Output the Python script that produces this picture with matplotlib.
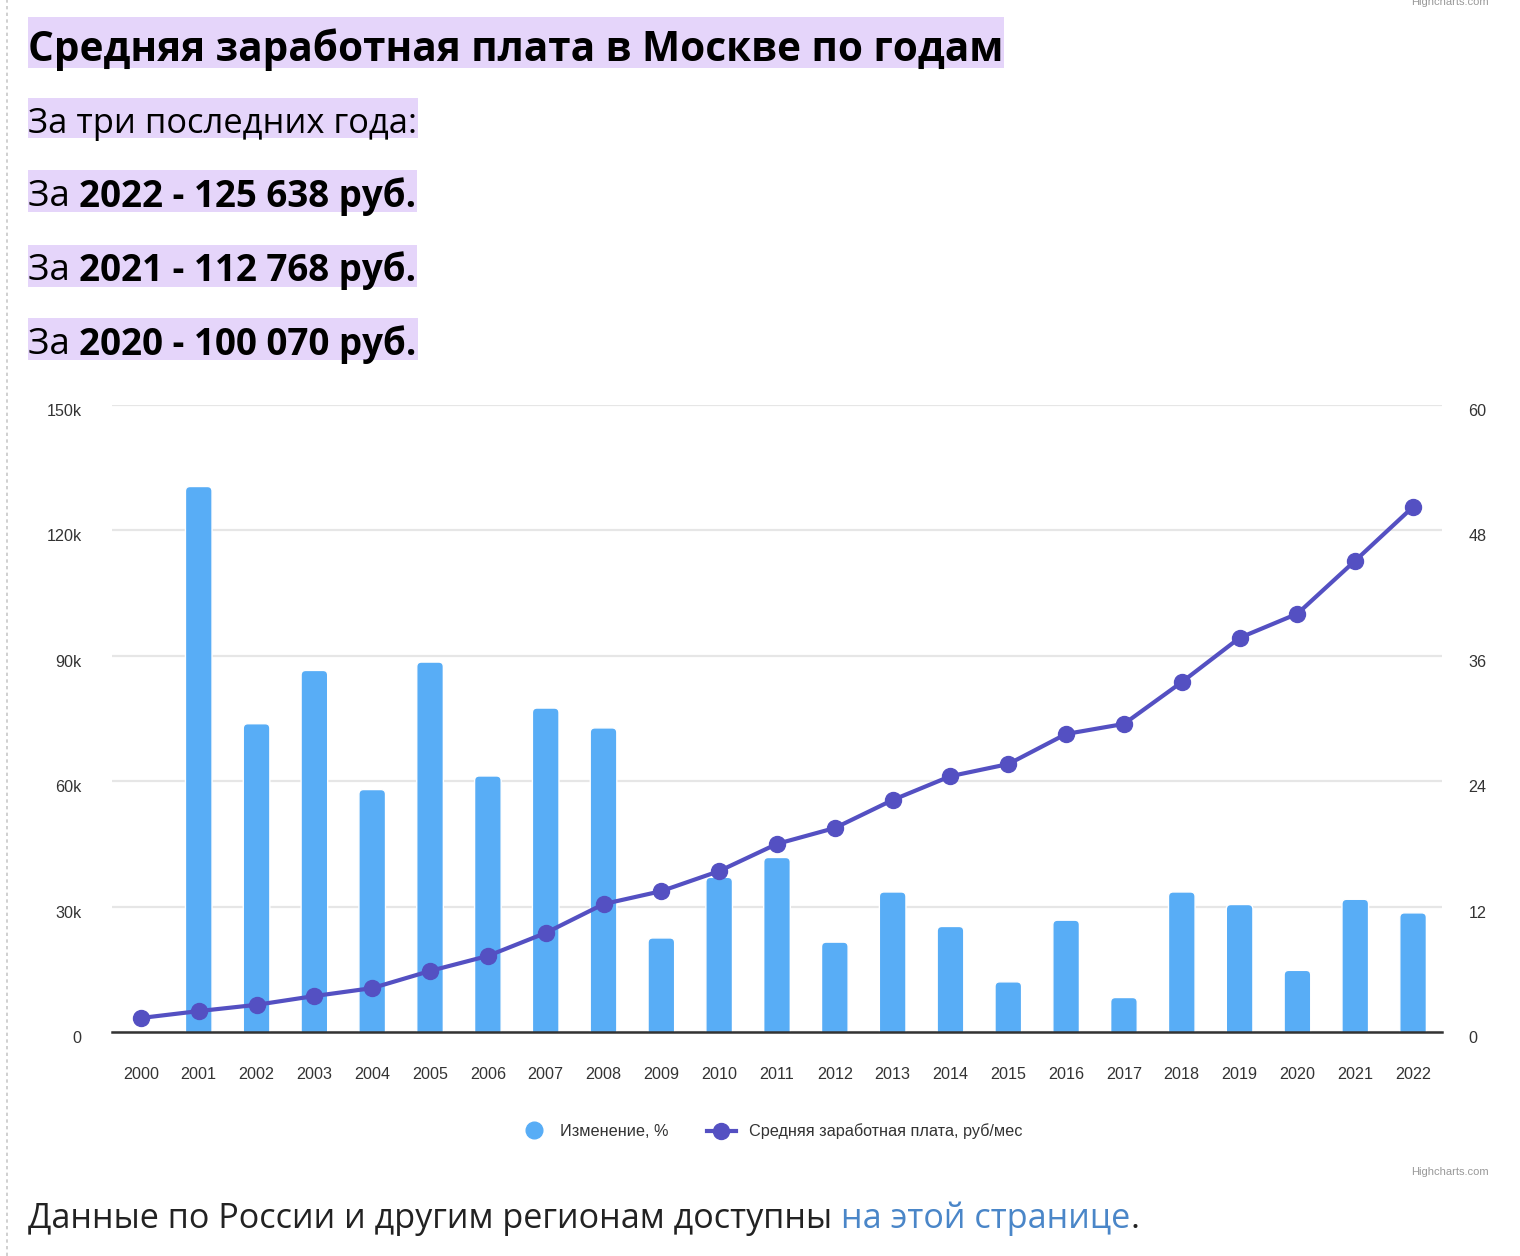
import matplotlib
matplotlib.use("Agg")
import matplotlib.pyplot as plt
from matplotlib.patches import Rectangle, FancyBboxPatch
from matplotlib.lines import Line2D
from matplotlib.transforms import ScaledTranslation

# ---------------- data ----------------
years = ["2000", "2001", "2002", "2003", "2004", "2005", "2006", "2007", "2008", "2009", "2010",
         "2011", "2012", "2013", "2014", "2015", "2016", "2017", "2018", "2019", "2020", "2021", "2022"]
salary = [3350, 5000, 6500, 8600, 10500, 14600, 18200, 23700, 30600, 33700, 38500,
          45000, 48800, 55500, 61200, 64100, 71300, 73700, 83700, 94300, 100070, 112768, 125638]
change = [None, 52.2, 29.5, 34.6, 23.2, 35.4, 24.5, 31.0, 29.1, 9.0, 14.8,
          16.7, 8.6, 13.4, 10.1, 4.8, 10.7, 3.3, 13.4, 12.2, 5.9, 12.7, 11.4]
left_ticks = [0, 30000, 60000, 90000, 120000, 150000]
left_labels = ["0", "30k", "60k", "90k", "120k", "150k"]
right_ticks = [0, 12, 24, 36, 48, 60]
right_labels = ["0", "12", "24", "36", "48", "60"]
title = "Средняя заработная плата в Москве по годам"
subtitle = "За три последних года:"
summary = [("За ", "2022 - 125 638 руб."), ("За ", "2021 - 112 768 руб."), ("За ", "2020 - 100 070 руб.")]
legend_bar = "Изменение, %"
legend_line = "Средняя заработная плата, руб/мес"
footer_a = "Данные по России и другим регионам доступны "
footer_link = "на этой странице"
footer_b = "."
credit = "Highcharts.com"

W, H = 1520, 1256
BAR = "#58adf6"
LINE = "#5450c2"
HL = "#e5d5fa"
TXT = "#333333"
CHART_FONT = ["Liberation Sans", "DejaVu Sans"]
HEAD_FONT = ["Open Sans", "DejaVu Sans"]

fig = plt.figure(figsize=(W / 100, H / 100), dpi=100)
fig.patch.set_facecolor("white")

def fx(x):
    return x / W

def fy(y):
    return 1 - y / H

# left dashed page border
fig.add_artist(Line2D([fx(7), fx(7)], [0, 1], color="#c8c8c8", lw=1.2, ls=(0, (2, 2))))

# ---------------- chart ----------------
L, R, T, B = 112, 1442, 405, 1032
ax = fig.add_axes([fx(L), fy(B), fx(R) - fx(L), fy(T) - fy(B)])
ax2 = ax.twinx()

xs = list(range(len(years)))
bx = [i for i, v in zip(xs, change) if v is not None]
bv = [v for v in change if v is not None]

ax.set_ylim(0, 60)
ax.set_xlim(-0.5, len(years) - 0.5)
bw = 0.46
for x, v in zip(bx, bv):
    p = FancyBboxPatch((x - bw / 2, -3), bw, v + 3,
                       boxstyle="round,pad=0,rounding_size=0.08",
                       mutation_aspect=60 / 627 * 1330 / 23,
                       facecolor=BAR, edgecolor="white", lw=1.0, zorder=3)
    ax.add_patch(p)
ax.set_yticks(right_ticks)
ax.set_yticklabels(right_labels)
ax.yaxis.tick_right()
ax.grid(axis="y", color="#e6e6e6", lw=1.6, zorder=0)
ax.set_axisbelow(True)
ax.tick_params(axis="y", length=0, pad=19, labelsize=11.6, labelcolor=TXT)
ax.set_xticks(xs)
ax.set_xticklabels(years)
ax.tick_params(axis="x", length=0, pad=25, labelsize=11.6, labelcolor=TXT)
for s in ["top", "left", "right"]:
    ax.spines[s].set_visible(False)
ax.spines["bottom"].set_color("#333333")
ax.spines["bottom"].set_linewidth(1.8)
ax.spines["bottom"].set_zorder(5)

ax2.set_ylim(0, 150000)
ax2.plot(xs, salary, color=LINE, lw=3, marker="o", ms=11.5, mec=LINE, mfc=LINE, zorder=5,
         clip_on=False)
ax2.yaxis.tick_left()
ax2.yaxis.set_label_position("left")
ax2.set_yticks(left_ticks)
ax2.set_yticklabels(left_labels)
ax2.tick_params(axis="y", length=0, pad=22, labelsize=11.6, labelcolor=TXT)
for s in ["top", "left", "right", "bottom"]:
    ax2.spines[s].set_visible(False)

for a in (ax, ax2):
    for lab in a.get_yticklabels():
        lab.set_fontfamily(CHART_FONT)
        lab.set_transform(lab.get_transform() + ScaledTranslation(0, -5 / 100, fig.dpi_scale_trans))
for lab in ax.get_xticklabels():
    lab.set_fontfamily(CHART_FONT)

# legend
fig.add_artist(Line2D([fx(534)], [fy(1130)], marker="o", ms=12, color=BAR, mec=BAR))
fig.text(fx(560), fy(1131), legend_bar, fontsize=11.7, color=TXT, va="center", ha="left",
         family=CHART_FONT)
fig.add_artist(Line2D([fx(707), fx(736)], [fy(1131), fy(1131)], color=LINE, lw=3))
fig.add_artist(Line2D([fx(721)], [fy(1131)], marker="o", ms=11.5, color=LINE, mec=LINE))
fig.text(fx(749), fy(1131), legend_line, fontsize=11.7, color=TXT, va="center", ha="left",
         family=CHART_FONT)

# credits
fig.text(fx(1489), fy(1172), credit, fontsize=8, color="#999999", ha="right", va="center",
         family=CHART_FONT)
fig.text(fx(1489), fy(2), credit, fontsize=8, color="#999999", ha="right", va="center",
         family=CHART_FONT)

# ---------------- header text ----------------
fig.canvas.draw()
renderer = fig.canvas.get_renderer()

def measure(parts, size):
    total = 0
    for txt, weight, color in parts:
        t = fig.text(0, 0, txt, fontsize=size, fontweight=weight, family=HEAD_FONT)
        total += t.get_window_extent(renderer).width
        t.remove()
    return total

def seq_text(x0, yc, parts, size, box=None, fit=None):
    if fit is not None:
        size = size * fit / measure(parts, size)
    x = x0
    for txt, weight, color in parts:
        t = fig.text(fx(x), fy(yc), txt, fontsize=size, fontweight=weight, color=color,
                     va="center_baseline", ha="left", family=HEAD_FONT, zorder=3)
        ext = t.get_window_extent(renderer)
        x += ext.width
    if box is not None:
        y0, y1 = box
        fig.add_artist(Rectangle((fx(28), fy(y1)), fx(x + 1) - fx(28), fy(y0) - fy(y1),
                                 facecolor=HL, edgecolor="none", zorder=1))
    return x

seq_text(28, 45, [(title, "bold", "black")], 28.5, box=(17, 68), fit=978)
seq_text(28, 120, [(subtitle, "normal", "black")], 24.5, box=(98, 138), fit=389)
for (a, b), yc, bx_ in zip(summary, [192, 266, 340], [(170, 212), (245, 287), (318, 360)]):
    seq_text(28, yc, [(a, "normal", "black"), (b, "bold", "black")], 24.5, box=bx_, fit=389)

seq_text(28, 1215, [(footer_a, "normal", "#222222"), (footer_link, "normal", "#4a86c8"),
                    (footer_b, "normal", "#222222")], 24.5, fit=1112)

fig.savefig("out.png", dpi=100, facecolor="white")
